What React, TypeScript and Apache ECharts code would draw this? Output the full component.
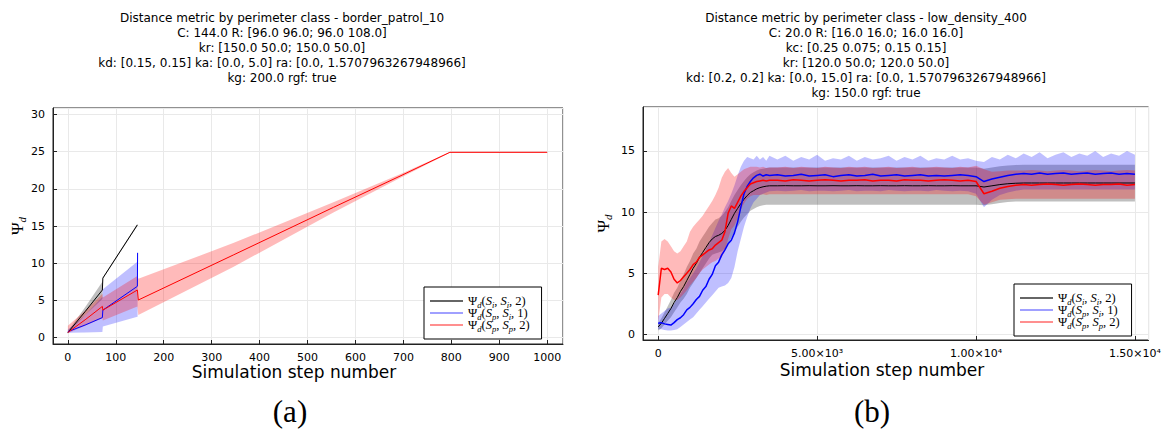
import React, { useEffect, useRef } from 'react';
import * as echarts from 'echarts';

const SANS = 'DejaVu Sans';
const SERIF = 'Liberation Serif';

// ---------- (a) border_patrol_10 ----------
const A_TITLE = [
  'Distance metric by perimeter class - border_patrol_10',
  'C: 144.0 R: [96.0 96.0; 96.0 108.0]',
  'kr: [150.0 50.0; 150.0 50.0]',
  'kd: [0.15, 0.15] ka: [0.0, 5.0] ra: [0.0, 1.5707963267948966]',
  'kg: 200.0 rgf: true',
];
const X_LABEL = 'Simulation step number';
const A_BLACK_X = [0, 36, 72, 73, 145];
const A_BLACK_Y = [0.7, 3.5, 6.4, 8.0, 15.15];
const A_BLACK_LO = [0.6, 3.0, 5.2, 7.9, 15.0];
const A_BLACK_HI = [0.85, 4.1, 7.5, 8.1, 15.3];

const A_BLUE_X = [0, 36, 72, 73, 145, 145.5];
const A_BLUE_Y = [0.8, 1.7, 2.7, 3.7, 6.9, 11.4];
const A_BLUE_LO = [0.65, 0.7, 0.75, 1.5, 2.8, 2.8];
const A_BLUE_HI = [1.1, 3.0, 5.5, 6.5, 10.2, 10.2];

const A_RED_X = [0, 36, 72, 73, 145, 147, 345, 554, 693, 797, 1000];
const A_RED_Y = [0.7, 2.4, 4.2, 3.7, 6.4, 5.06, 11.1, 17.5, 21.7, 24.9, 24.9];
const A_RED_LO = [0.6, 1.6, 2.6, 2.3, 4.2, 3.05, 9.5, 16.8, 21.45, 24.85, 24.85];
const A_RED_HI = [1.6, 3.6, 5.9, 5.4, 8.3, 7.9, 12.7, 18.2, 21.95, 24.95, 24.95];

// ---------- (b) low_density_400 ----------
const B_TITLE = [
  'Distance metric by perimeter class - low_density_400',
  'C: 20.0 R: [16.0 16.0; 16.0 16.0]',
  'kc: [0.25 0.075; 0.15 0.15]',
  'kr: [120.0 50.0; 120.0 50.0]',
  'kd: [0.2, 0.2] ka: [0.0, 15.0] ra: [0.0, 1.5707963267948966]',
  'kg: 150.0 rgf: true',
];
const B_X_TICK_LABELS: Record<number, string> = {
  0: '0',
  5000: '5.00×10³',
  10000: '1.00×10⁴',
  15000: '1.50×10⁴',
};
const B_X = [
  0, 100, 200, 300, 400, 500, 600, 700, 800, 900,
  1000, 1100, 1200, 1300, 1400, 1500, 1600, 1700, 1800, 1900,
  2000, 2100, 2200, 2300, 2400, 2500, 2600, 2700, 2800, 2900,
  3000, 3100, 3200, 3300, 3400, 3500,
  3750, 4000, 4250, 4500, 4750, 5000, 5250, 5500, 5750, 6000,
  6250, 6500, 6750, 7000, 7250, 7500, 7750, 8000, 8250, 8500,
  8750, 9000, 9250, 9500, 9750,
  10000, 10250, 10500, 10750, 11000, 11250,
  11500, 11750, 12000, 12250, 12500, 12750, 13000, 13250, 13500, 13750,
  14000, 14250, 14500, 14750, 15000,
];
const B_BLACK_Y = [
  0.6, 0.9, 1.3, 1.7, 2.1, 2.6, 3.0, 3.5, 3.9, 4.4,
  4.9, 5.4, 5.8, 6.3, 6.7, 7.1, 7.5, 7.8, 8.0, 8.1,
  8.25, 8.5, 8.9, 9.4, 9.9, 10.3, 10.7, 11.05, 11.35, 11.6,
  11.75, 11.9, 12.0, 12.07, 12.12, 12.15,
  12.15, 12.16, 12.15, 12.15, 12.16, 12.15, 12.15, 12.16, 12.15, 12.15,
  12.16, 12.15, 12.15, 12.16, 12.15, 12.15, 12.16, 12.15, 12.15, 12.16,
  12.15, 12.15, 12.16, 12.15, 12.15,
  12.15, 12.05, 12.15, 12.25, 12.32, 12.36,
  12.38, 12.38, 12.38, 12.38, 12.38, 12.38, 12.38, 12.38, 12.38, 12.38,
  12.38, 12.38, 12.38, 12.38, 12.38,
];
const B_BLACK_LO = [
  0.3, 0.5, 0.8, 1.1, 1.4, 1.8, 2.2, 2.6, 2.9, 3.3,
  3.8, 4.2, 4.6, 5.0, 5.4, 5.8, 6.2, 6.5, 6.6, 6.7,
  6.8, 7.0, 7.4, 7.9, 8.4, 8.8, 9.2, 9.55, 9.85, 10.1,
  10.25, 10.4, 10.5, 10.55, 10.6, 10.6,
  10.6, 10.6, 10.6, 10.6, 10.6, 10.6, 10.6, 10.6, 10.6, 10.6,
  10.6, 10.6, 10.6, 10.6, 10.6, 10.6, 10.6, 10.6, 10.6, 10.6,
  10.6, 10.6, 10.6, 10.6, 10.6,
  10.6, 10.55, 10.65, 10.75, 10.82, 10.86,
  10.87, 10.87, 10.87, 10.87, 10.87, 10.87, 10.87, 10.87, 10.87, 10.87,
  10.87, 10.87, 10.87, 10.87, 10.87,
];
const B_BLACK_HI = [
  0.9, 1.3, 1.8, 2.3, 2.8, 3.4, 3.8, 4.4, 4.9, 5.5,
  6.0, 6.6, 7.0, 7.6, 8.0, 8.4, 8.8, 9.1, 9.4, 9.5,
  9.7, 10.0, 10.4, 10.9, 11.4, 11.8, 12.2, 12.55, 12.85, 13.1,
  13.25, 13.4, 13.5, 13.55, 13.6, 13.65,
  13.65, 13.65, 13.65, 13.65, 13.65, 13.65, 13.65, 13.65, 13.65, 13.65,
  13.65, 13.65, 13.65, 13.65, 13.65, 13.65, 13.65, 13.65, 13.65, 13.65,
  13.65, 13.65, 13.65, 13.65, 13.65,
  13.65, 13.55, 13.65, 13.75, 13.82, 13.86,
  13.88, 13.88, 13.88, 13.88, 13.88, 13.88, 13.88, 13.88, 13.88, 13.88,
  13.88, 13.88, 13.88, 13.88, 13.88,
];
const B_BLUE_Y = [
  0.9, 0.95, 0.85, 0.8, 0.75, 0.95, 1.2, 1.35, 1.6, 2.0,
  2.2, 2.5, 2.85, 3.1, 3.6, 3.9, 4.5, 4.9, 5.6, 5.9,
  6.5, 6.9, 7.4, 7.7, 8.3, 9.2, 10.4, 11.5, 12.1, 12.5,
  12.8, 13.0, 13.1, 12.95, 13.05, 13.0,
  13.05, 12.95, 13.0, 13.1, 12.95, 13.0, 13.05, 12.9, 13.0, 13.05,
  12.95, 13.0, 13.1, 12.95, 13.0, 13.05, 12.95, 13.0, 13.05, 12.95,
  13.0, 12.95, 13.0, 13.05, 13.0,
  12.9, 12.5, 12.7, 12.85, 13.0, 13.1,
  13.15, 13.1, 13.2, 13.1, 13.15, 13.2, 13.1, 13.15, 13.2, 13.1,
  13.15, 13.2, 13.1, 13.15, 13.1,
];
const B_BLUE_LO = [
  0.4, 0.4, 0.35, 0.3, 0.3, 0.35, 0.4, 0.6, 0.8, 1.0,
  1.2, 1.4, 1.7, 2.0, 2.3, 2.6, 2.9, 3.2, 3.5, 3.8,
  3.9, 4.0, 4.2, 4.6, 5.5, 6.8, 7.8, 8.8, 9.6, 10.3,
  10.8, 11.1, 11.4, 11.5, 11.6, 11.7,
  11.75, 11.7, 11.75, 11.8, 11.7, 11.75, 11.75, 11.7, 11.75, 11.8,
  11.7, 11.75, 11.75, 11.7, 11.8, 11.75, 11.7, 11.75, 11.75, 11.7,
  11.8, 11.75, 11.7, 11.75, 11.7,
  11.5, 10.4, 11.0, 11.4, 11.6, 11.75,
  11.85, 11.85, 11.85, 11.85, 11.85, 11.85, 11.85, 11.85, 11.85, 11.85,
  11.85, 11.85, 11.85, 11.85, 11.85,
];
const B_BLUE_HI = [
  1.5, 1.7, 1.9, 2.1, 2.2, 2.5, 2.9, 3.3, 3.7, 4.2,
  4.6, 5.0, 5.4, 5.9, 6.4, 6.9, 7.5, 8.1, 8.7, 9.3,
  9.8, 10.4, 10.9, 11.5, 12.2, 13.0, 13.7, 14.2, 14.5, 14.4,
  14.3, 14.6, 14.3, 14.5, 14.2, 14.6,
  14.3, 14.6, 14.2, 14.5, 14.3, 14.7, 14.2, 14.4, 14.3, 14.6,
  14.2, 14.5, 14.3, 14.4, 14.6, 14.2, 14.5, 14.3, 14.6, 14.2,
  14.4, 14.3, 14.6, 14.3, 14.4,
  14.2, 14.1, 14.5, 14.3, 14.7, 14.4,
  14.8, 14.5, 14.9, 14.4, 14.7, 14.9, 14.5, 14.8, 14.6, 15.0,
  14.5, 14.8, 14.6, 15.0, 14.7,
];
const B_RED_Y = [
  3.2, 5.4, 5.3, 5.4, 5.1, 4.5, 4.2, 4.4, 4.7, 5.0,
  5.3, 5.7, 5.9, 6.3, 6.5, 6.7, 6.9, 7.0, 7.3, 7.5,
  7.7, 8.4, 9.9, 10.5, 10.3, 10.8, 11.3, 11.7, 12.0, 12.3,
  12.4, 12.5, 12.55, 12.6, 12.55, 12.6,
  12.6, 12.55, 12.65, 12.6, 12.55, 12.6, 12.65, 12.6, 12.55, 12.6,
  12.6, 12.65, 12.55, 12.6, 12.6, 12.55, 12.65, 12.6, 12.6, 12.55,
  12.6, 12.65, 12.6, 12.55, 12.6,
  12.5, 11.5, 11.7, 11.95, 12.1, 12.2,
  12.25, 12.2, 12.25, 12.3, 12.25, 12.2, 12.25, 12.3, 12.25, 12.2,
  12.25, 12.25, 12.3, 12.2, 12.25,
];
const B_RED_LO = [
  1.0, 3.0, 3.3, 3.3, 3.0, 2.8, 2.8, 3.0, 3.3, 3.6,
  4.0, 4.3, 4.6, 5.0, 5.3, 5.5, 5.7, 5.9, 6.0, 6.2,
  6.3, 6.8, 7.8, 8.6, 8.9, 9.5, 10.2, 10.7, 11.1, 11.3,
  11.4, 11.4, 11.4, 11.45, 11.4, 11.45,
  11.45, 11.45, 11.45, 11.45, 11.45, 11.45, 11.45, 11.45, 11.45, 11.45,
  11.45, 11.45, 11.45, 11.45, 11.45, 11.45, 11.45, 11.45, 11.45, 11.45,
  11.45, 11.45, 11.45, 11.45, 11.45,
  11.3, 10.6, 10.8, 11.0, 11.05, 11.1,
  11.1, 11.1, 11.1, 11.1, 11.1, 11.1, 11.1, 11.1, 11.1, 11.1,
  11.1, 11.1, 11.1, 11.1, 11.1,
];
const B_RED_HI = [
  5.5, 7.6, 7.8, 7.6, 7.2, 6.8, 6.6, 6.8, 7.2, 7.6,
  8.4, 8.8, 9.1, 9.4, 9.7, 10.1, 10.5, 10.9, 11.4, 12.0,
  12.8, 13.3, 13.6, 13.2, 12.9, 13.1, 13.3, 13.5, 13.6, 13.7,
  13.7, 13.7, 13.65, 13.7, 13.6, 13.65,
  13.65, 13.7, 13.6, 13.7, 13.65, 13.6, 13.7, 13.65, 13.6, 13.7,
  13.65, 13.7, 13.6, 13.65, 13.7, 13.6, 13.65, 13.7, 13.6, 13.65,
  13.7, 13.65, 13.6, 13.7, 13.65,
  13.8, 13.5, 13.3, 13.35, 13.4, 13.4,
  13.4, 13.45, 13.4, 13.35, 13.4, 13.45, 13.4, 13.35, 13.4, 13.45,
  13.4, 13.35, 13.4, 13.45, 13.4,
];

const LEGEND_NAMES = ['Ψd(Si,Si,2)', 'Ψd(Sp,Si,1)', 'Ψd(Sp,Sp,2)'];
const LEGEND_RICH_TEXT: Record<string, string> = {
  'Ψd(Si,Si,2)': '{t|Ψ}{s|d}{t|(}{i|S}{s|i}{t|, }{i|S}{s|i}{t|, 2)}',
  'Ψd(Sp,Si,1)': '{t|Ψ}{s|d}{t|(}{i|S}{s|p}{t|, }{i|S}{s|i}{t|, 1)}',
  'Ψd(Sp,Sp,2)': '{t|Ψ}{s|d}{t|(}{i|S}{s|p}{t|, }{i|S}{s|p}{t|, 2)}',
};

const COL_BLACK = '#000000';
const COL_BLUE = '#0000ff';
const COL_RED = '#ff0000';
const BAND_BLACK = 'rgba(0,0,0,0.25)';
const BAND_BLUE = 'rgba(0,0,255,0.25)';
const BAND_RED = 'rgba(255,0,0,0.27)';

function pairs(xs: number[], ys: number[]) {
  return xs.map((x, i) => [x, ys[i]]);
}

function band(xs: number[], lo: number[], hi: number[], color: string, axis: number) {
  return {
    type: 'custom',
    xAxisIndex: axis,
    yAxisIndex: axis,
    silent: true,
    data: xs.map((x, i) => [x, lo[i], hi[i]]),
    encode: { x: 0, y: [1, 2] },
    renderItem: (params: any, api: any) => {
      if (params.dataIndex !== 0) return null;
      const pts: number[][] = [];
      for (let i = 0; i < xs.length; i++) pts.push(api.coord([xs[i], hi[i]]));
      for (let i = xs.length - 1; i >= 0; i--) pts.push(api.coord([xs[i], lo[i]]));
      return { type: 'polygon', shape: { points: pts }, style: { fill: color } };
    },
  };
}

function line(name: string, xs: number[], ys: number[], color: string, axis: number, width: number) {
  return {
    type: 'line', name, xAxisIndex: axis, yAxisIndex: axis, symbol: 'none',
    data: pairs(xs, ys), lineStyle: { color, width }, itemStyle: { color },
  };
}

const psiName = '{p|Ψ}{s|d}';
const psiRich = {
  p: { fontFamily: SERIF, fontSize: 17, lineHeight: 18, color: '#000' },
  s: { fontFamily: SERIF, fontStyle: 'italic', fontSize: 11, lineHeight: 18, padding: [9, 0, 0, 0], color: '#000' },
};
const legendRich = {
  t: { fontFamily: SERIF, fontSize: 12.5, lineHeight: 12, color: '#000' },
  i: { fontFamily: SERIF, fontStyle: 'italic', fontSize: 12.5, lineHeight: 12, color: '#000' },
  s: { fontFamily: SERIF, fontStyle: 'italic', fontSize: 8.5, lineHeight: 12, padding: [7, 0, 0, 0], color: '#000' },
};

function axisCommon() {
  return {
    type: 'value',
    axisLine: { show: true, onZero: false, lineStyle: { color: '#222', width: 1 } },
    axisTick: { show: true, inside: true, length: 4, lineStyle: { color: '#222' } },
    axisLabel: {
      color: '#000', fontSize: 11, fontFamily: SANS, showMinLabel: false, showMaxLabel: false,
      formatter: (v: number) => String(v),
    },
    splitLine: { show: true, lineStyle: { color: '#e9e9e9', width: 1 } },
  };
}

function legend(left: number, top: number) {
  return {
    left, top, orient: 'vertical', icon: 'rect', itemWidth: 33, itemHeight: 1.5,
    itemGap: -4, itemTextGap: 5, padding: [6, 12, 6, 6],
    borderColor: '#000', borderWidth: 1, backgroundColor: '#fff', selectedMode: false,
    data: [
      { name: LEGEND_NAMES[0], itemStyle: { color: '#333' } },
      { name: LEGEND_NAMES[1], itemStyle: { color: '#8080ff' } },
      { name: LEGEND_NAMES[2], itemStyle: { color: '#ff6a6a' } },
    ],
    formatter: (n: string) => LEGEND_RICH_TEXT[n],
    textStyle: { rich: legendRich },
  };
}

function text(content: string, x: number, y: number, size: number, family: string, vAlign = 'middle', lineHeight?: number) {
  return {
    type: 'text', x, y, silent: true,
    style: { text: content, align: 'center', verticalAlign: vAlign, fontSize: size, fontFamily: family, lineHeight, fill: '#000' },
  };
}

export default function App() {
  const ref = useRef<HTMLDivElement>(null);
  useEffect(() => {
    if (!ref.current) return;
    const chart = echarts.init(ref.current, null, { renderer: 'svg' });
    const option: any = {
      animation: false,
      backgroundColor: '#fff',
      grid: [
        { left: 53, top: 108, width: 510, height: 236, show: true, borderColor: '#222', borderWidth: 1, backgroundColor: 'transparent' },
        { left: 643, top: 107, width: 509, height: 233, show: true, borderColor: '#222', borderWidth: 1, backgroundColor: 'transparent' },
      ],
      xAxis: [
        { ...axisCommon(), gridIndex: 0, min: -31, max: 1033, splitNumber: 10 },
        {
          ...axisCommon(), gridIndex: 1, min: -478, max: 15428, splitNumber: 3,
          axisLabel: { ...axisCommon().axisLabel, formatter: (v: number) => B_X_TICK_LABELS[v] ?? String(v) },
        },
      ],
      yAxis: [
        {
          ...axisCommon(), gridIndex: 0, min: -0.85, max: 30.85, splitNumber: 6,
          name: psiName, nameLocation: 'middle', nameGap: 27, nameRotate: 90,
          nameTextStyle: { rich: psiRich },
        },
        {
          ...axisCommon(), gridIndex: 1, min: -0.47, max: 18.6, splitNumber: 3,
          name: psiName, nameLocation: 'middle', nameGap: 31, nameRotate: 90,
          nameTextStyle: { rich: psiRich },
        },
      ],
      legend: [legend(424, 287), legend(1014, 284)],
      graphic: [
        text(A_TITLE.join('\n'), 282, 10, 12, SANS, 'top', 15),
        text(B_TITLE.join('\n'), 866, 10, 12, SANS, 'top', 15),
        text(X_LABEL, 294, 372, 17, SANS),
        text(X_LABEL, 882, 370, 17, SANS),
        text('(a)', 290, 411, 31, SERIF),
        text('(b)', 872, 411, 31, SERIF),
      ],
      series: [
        band(A_BLACK_X, A_BLACK_LO, A_BLACK_HI, BAND_BLACK, 0),
        line(LEGEND_NAMES[0], A_BLACK_X, A_BLACK_Y, COL_BLACK, 0, 1),
        band(A_BLUE_X, A_BLUE_LO, A_BLUE_HI, BAND_BLUE, 0),
        line(LEGEND_NAMES[1], A_BLUE_X, A_BLUE_Y, COL_BLUE, 0, 1),
        band(A_RED_X, A_RED_LO, A_RED_HI, BAND_RED, 0),
        line(LEGEND_NAMES[2], A_RED_X, A_RED_Y, COL_RED, 0, 1),

        band(B_X, B_BLACK_LO, B_BLACK_HI, BAND_BLACK, 1),
        line(LEGEND_NAMES[0], B_X, B_BLACK_Y, COL_BLACK, 1, 1),
        band(B_X, B_BLUE_LO, B_BLUE_HI, BAND_BLUE, 1),
        line(LEGEND_NAMES[1], B_X, B_BLUE_Y, COL_BLUE, 1, 1.5),
        band(B_X, B_RED_LO, B_RED_HI, BAND_RED, 1),
        line(LEGEND_NAMES[2], B_X, B_RED_Y, COL_RED, 1, 1.5),
      ],
    };
    chart.setOption(option);
    return () => chart.dispose();
  }, []);
  return (
    <div
      ref={ref}
      style={{ position: 'fixed', left: 0, top: 0, width: 1164, height: 433, background: '#fff' }}
    />
  );
}
